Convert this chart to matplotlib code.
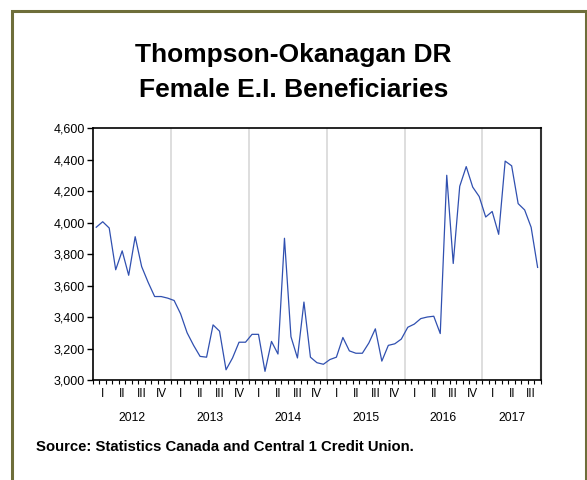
import matplotlib
matplotlib.use("Agg")
from matplotlib import pyplot as plt
from matplotlib.patches import Rectangle
import matplotlib.transforms as mtransforms
import numpy as np

plt.rcParams['font.family'] = ['Liberation Sans', 'DejaVu Sans']

# monthly values, Jan 2012 .. Sep 2017
values = [3970, 4005, 3965, 3700, 3820, 3665, 3910, 3720, 3620, 3530, 3530, 3520,
          3505, 3420, 3300, 3220, 3150, 3145, 3350, 3310, 3065, 3140, 3240, 3240,
          3290, 3290, 3055, 3245, 3165, 3900, 3275, 3140, 3495, 3145, 3110, 3100,
          3130, 3145, 3270, 3185, 3170, 3170, 3235, 3325, 3120, 3220, 3230, 3260,
          3335, 3355, 3390, 3400, 3405, 3295, 4300, 3740, 4230, 4355, 4225, 4165,
          4035, 4070, 3925, 4390, 4360, 4120, 4080, 3970, 3715]
years = ['2012', '2013', '2014', '2015', '2016', '2017']
quarters = ['I', 'II', 'III', 'IV']
yticks = [3000, 3200, 3400, 3600, 3800, 4000, 4200, 4400, 4600]
title_lines = ['Thompson-Okanagan DR', 'Female E.I. Beneficiaries']
source = 'Source: Statistics Canada and Central 1 Credit Union.'

n = len(values)
months = np.arange(n)

fig = plt.figure(figsize=(5.87, 4.80), dpi=100)
fig.patches.append(Rectangle((0.021, -0.05), 0.977, 1.027, transform=fig.transFigure,
                             fill=False, edgecolor='#6e6e3a', linewidth=2.2))

ax = fig.add_axes([0.1584, 0.2083, 0.763, 0.525])
ax.plot(months, values, color='#3050b0', linewidth=0.9)

# year separators
for i in range(1, len(years)):
    ax.axvline(12 * i - 0.5, color='#d8d8d8', linewidth=1.2, zorder=0)

ax.set_xlim(-0.5, n - 0.5)
ax.set_ylim(3000, 4600)
ax.set_yticks(yticks)
ax.set_yticklabels(['{:,}'.format(v) for v in yticks], fontsize=9)
ax.tick_params(axis='y', length=4, width=1, pad=2)

# quarter labels as major ticks, months as minor ticks
qpos = []
qlab = []
for q in range(int(np.ceil(n / 3))):
    qpos.append(3 * q + 1)
    qlab.append(quarters[q % 4])
ax.set_xticks(qpos)
ax.set_xticklabels(qlab, fontsize=8.5)
ax.tick_params(axis='x', which='major', length=0, pad=6)
ax.set_xticks(np.arange(-0.5, n, 1), minor=True)
ax.tick_params(axis='x', which='minor', length=3, width=0.8)

trans = mtransforms.blended_transform_factory(ax.transData, ax.transAxes)
for i, yr in enumerate(years):
    start = 12 * i
    end = min(12 * i + 12, n)
    ax.text((start + end - 1) / 2, -0.15, yr, transform=trans, ha='center', va='center', fontsize=8.8)

for s in ['left', 'bottom', 'top']:
    ax.spines[s].set_linewidth(1.2)
    ax.spines[s].set_color('black')
ax.spines['right'].set_color('#333333')
ax.spines['right'].set_linewidth(1.5)

fig.text(0.5, 0.8715, title_lines[0], ha='center', va='baseline', fontsize=19, fontweight='bold')
fig.text(0.5, 0.7985, title_lines[1], ha='center', va='baseline', fontsize=19, fontweight='bold')
fig.text(0.062, 0.068, source, ha='left', va='center', fontsize=10.7, fontweight='bold')

fig.savefig('out.png', dpi=100)
